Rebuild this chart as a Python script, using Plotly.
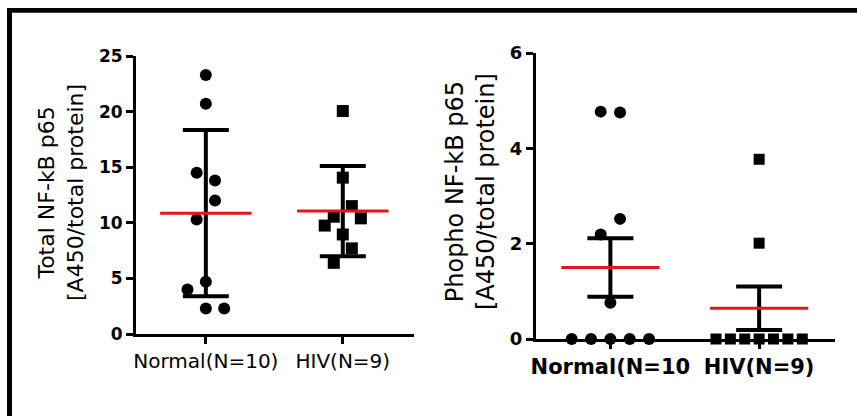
import plotly.graph_objects as go

# ---------------- data ----------------
categories_left = ["Normal(N=10)", "HIV(N=9)"]
categories_right = ["Normal(N=10", "HIV(N=9)"]

total_normal = [23.3, 20.7, 14.5, 13.8, 12.0, 10.3, 4.7, 4.0, 2.3, 2.3]
total_normal_slot = [0, 0, -1, 1, 1, -1, 0, -2, 0, 2]
total_hiv = [20.05, 14.06, 11.5, 10.55, 10.4, 9.75, 8.95, 7.7, 6.4]
total_hiv_slot = [0, 0, 1, -1, 2, -2, 0, 1, -1]
total_mean = [10.87, 11.05]
total_sd = [7.48, 4.05]

phospho_normal = [4.77, 4.75, 2.52, 2.19, 0.76, 0, 0, 0, 0, 0]
phospho_normal_slot = [-1, 1, 1, -1, 0, -4, -2, 0, 2, 4]
phospho_hiv = [3.77, 2.01, 0, 0, 0, 0, 0, 0, 0]
phospho_hiv_slot = [0, 0, -3, -2, -1, 0, 1, 2, 3]
phospho_mean = [1.5, 0.645]
phospho_sem = [0.615, 0.455]

left_ticks = [0, 5, 10, 15, 20, 25]
right_ticks = [0, 2, 4, 6]

# ---------------- styling ----------------
W, H = 857, 416
FONT = "DejaVu Sans"
RED = "#e8141c"


def px_x(p):
    return p / W


def px_y(p):
    return 1 - p / H


def jitter(center, slots, step):
    return [center + s * step for s in slots]


fig = go.Figure()

# ---- left panel ----
fig.add_trace(go.Scatter(
    x=[0, 1], y=total_mean, mode="markers", marker=dict(size=1, opacity=0),
    error_y=dict(type="data", array=total_sd, width=23, thickness=4, color="black"),
    xaxis="x", yaxis="y", cliponaxis=False, showlegend=False, hoverinfo="skip"))
fig.add_trace(go.Scatter(
    x=jitter(0, total_normal_slot, 0.067), y=total_normal, mode="markers",
    marker=dict(symbol="circle", size=12, color="black"),
    xaxis="x", yaxis="y", cliponaxis=False, showlegend=False))
fig.add_trace(go.Scatter(
    x=jitter(1, total_hiv_slot, 0.066), y=total_hiv, mode="markers",
    marker=dict(symbol="square", size=12, color="black"),
    xaxis="x", yaxis="y", cliponaxis=False, showlegend=False))
lx, ly = [], []
for i, m in enumerate(total_mean):
    lx += [i - 0.334, i + 0.334, None]
    ly += [m, m, None]
fig.add_trace(go.Scatter(x=lx, y=ly, mode="lines", line=dict(color=RED, width=3),
                         xaxis="x", yaxis="y", cliponaxis=False, showlegend=False))

# ---- right panel ----
fig.add_trace(go.Scatter(
    x=[0, 1], y=phospho_mean, mode="markers", marker=dict(size=1, opacity=0),
    error_y=dict(type="data", array=phospho_sem, width=23, thickness=4, color="black"),
    xaxis="x2", yaxis="y2", cliponaxis=False, showlegend=False, hoverinfo="skip"))
fig.add_trace(go.Scatter(
    x=jitter(0, phospho_normal_slot, 0.065), y=phospho_normal, mode="markers",
    marker=dict(symbol="circle", size=12, color="black"),
    xaxis="x2", yaxis="y2", cliponaxis=False, showlegend=False))
fig.add_trace(go.Scatter(
    x=jitter(1, phospho_hiv_slot, 0.0967), y=phospho_hiv, mode="markers",
    marker=dict(symbol="square", size=11, color="black"),
    xaxis="x2", yaxis="y2", cliponaxis=False, showlegend=False))
rx, ry = [], []
for i, m in enumerate(phospho_mean):
    rx += [i - 0.33, i + 0.33, None]
    ry += [m, m, None]
fig.add_trace(go.Scatter(x=rx, y=ry, mode="lines", line=dict(color=RED, width=3),
                         xaxis="x2", yaxis="y2", cliponaxis=False, showlegend=False))

axis_common = dict(showgrid=False, zeroline=False, showline=True, linecolor="black",
                   linewidth=3, ticks="outside", ticklen=7, tickwidth=3, tickcolor="black",
                   fixedrange=True, automargin=False)

fig.update_layout(
    template="none",
    width=W, height=H, autosize=False,
    margin=dict(l=0, r=0, t=0, b=0, pad=0, autoexpand=False),
    paper_bgcolor="white", plot_bgcolor="white",
    font=dict(family=FONT, color="black"),
    xaxis=dict(domain=[px_x(136), px_x(414)], range=[-0.51, 1.52], tickmode="array",
               tickvals=[0, 1], ticktext=categories_left,
               tickfont=dict(family=FONT, size=20, color="black"), anchor="y", **axis_common),
    yaxis=dict(domain=[px_y(334), px_y(56)], range=[0, 25], tickmode="array",
               tickvals=left_ticks, ticktext=[str(t) for t in left_ticks],
               tickfont=dict(family=FONT, size=17, color="black", weight="bold"),
               anchor="x", **axis_common),
    xaxis2=dict(domain=[px_x(536), px_x(835)], range=[-0.5, 1.51], tickmode="array",
                tickvals=[0, 1], ticktext=categories_right,
                tickfont=dict(family=FONT, size=21, color="black", weight="bold"),
                anchor="y2", **axis_common),
    yaxis2=dict(domain=[px_y(339), px_y(53)], range=[0, 6], tickmode="array",
                tickvals=right_ticks, ticktext=[str(t) for t in right_ticks],
                tickfont=dict(family=FONT, size=18, color="black", weight="bold"),
                anchor="x2", **axis_common),
    annotations=[
        dict(text="Total NF-kB p65<br>[A450/total protein]", textangle=-90,
             xref="paper", yref="paper", x=px_x(61), y=px_y(192),
             xanchor="center", yanchor="middle", showarrow=False,
             font=dict(family=FONT, size=22, color="black")),
        dict(text="Phopho NF-kB p65<br>[A450/total protein]", textangle=-90,
             xref="paper", yref="paper", x=px_x(470), y=px_y(192),
             xanchor="center", yanchor="middle", showarrow=False,
             font=dict(family=FONT, size=24, color="black")),
    ],
    shapes=[
        dict(type="rect", xref="paper", yref="paper", x0=px_x(7), x1=1.0,
             y0=px_y(12.7), y1=px_y(8), fillcolor="black", line=dict(width=0)),
        dict(type="rect", xref="paper", yref="paper", x0=px_x(7), x1=px_x(12),
             y0=0, y1=px_y(8), fillcolor="black", line=dict(width=0)),
    ],
)

fig.write_html("out.html", config={"displayModeBar": False},
               post_script="document.body.style.margin='0';document.body.style.overflow='hidden';")
